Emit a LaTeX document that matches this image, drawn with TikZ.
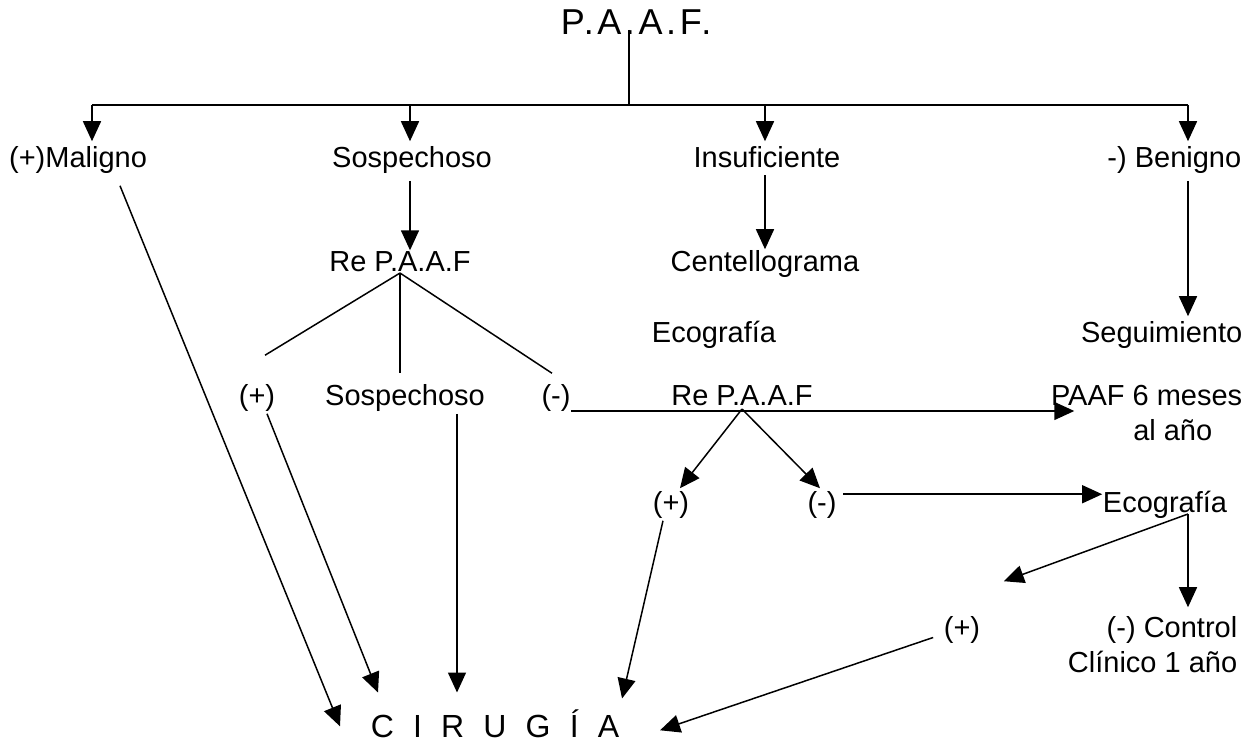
\documentclass[tikz,border=0pt]{standalone}
\usepackage{fontspec}
\setmainfont{Liberation Sans}
\newfontfamily\titlefont[LetterSpace=10]{Liberation Sans}
\newfontfamily\widefont[LetterSpace=60]{Liberation Sans}
\usetikzlibrary{arrows.meta, calc}

\begin{document}
\begin{tikzpicture}[
    x=1pt, y=-1pt,
    line width=1.5pt,
    lbl/.style={inner sep=0pt, anchor=base, font=\fontsize{29}{33}\selectfont},
    titulo/.style={inner sep=0pt, anchor=base west, font=\titlefont\fontsize{36}{39}\selectfont},
    tip/.style={-{Triangle[length=20pt,width=18pt]}}
]
    \useasboundingbox (0,0) rectangle (1250,743);

    % Title and first level
    \node[titulo] (paaf) at (560,35) {P.A.A.F.};
    \node[lbl] (malig) at (78,168) {(+)Maligno};
    \node[lbl] (sosp) at (412,168) {Sospechoso};
    \node[lbl] (insuf) at (767,168) {Insuficiente};
    \node[lbl, anchor=base east] (benig) at (1242,168) {-) Benigno};

    % Second level
    \node[lbl] (repaaf) at (400,272) {Re P.A.A.F};
    \node[lbl] (cente) at (765,272) {Centellograma};
    \node[lbl] (ecoa) at (714,342) {Ecografía};
    \node[lbl, anchor=base east] (segui) at (1243,342) {Seguimiento};

    % Third level
    \node[lbl] (posa) at (257,405) {(+)};
    \node[lbl] (sospb) at (405,405) {Sospechoso};
    \node[lbl] (nega) at (556,405) {(-)};
    \node[lbl] (repaafb) at (742,405) {Re P.A.A.F};
    \node[lbl, anchor=base east] (seis) at (1243,405) {PAAF 6 meses};
    \node[lbl, anchor=base east] (anio) at (1213,440) {al año};

    % Fourth level
    \node[lbl] (posb) at (671,512) {(+)};
    \node[lbl] (negb) at (822,512) {(-)};
    \node[lbl] (ecob) at (1165,512) {Ecografía};
    \node[lbl] (posc) at (962,637) {(+)};
    \node[lbl, anchor=base east] (control) at (1238,637) {(-) Control};
    \node[lbl, anchor=base east] (clinico) at (1238,672) {Clínico 1 año};

    % Result
    \node[titulo, font=\widefont\fontsize{32}{36}\selectfont] (cirugia) at (370,737) {CIRUGÍA};

    % Trunk
    \coordinate (bar) at (629,105);
    \coordinate (stemtop) at ($(bar |- paaf.base)+(0,-5)$);
    \draw (stemtop) -- (bar);
    \draw (92,0 |- bar) -- (1188,0 |- bar);
    \foreach \n/\x in {malig/92, sosp/410, insuf/765, benig/1188}
        \draw[tip, shorten >=5pt] (\x,0 |- bar) -- (\x,0 |- \n.north);

    % First level down
    \draw[tip, shorten <=6pt, shorten >=1pt] ([xshift=-2pt]sosp.south) -- ([xshift=-2pt]sosp.south |- repaaf.north);
    \draw[tip, shorten <=6pt, shorten >=1pt] ([xshift=-2pt]insuf.south) -- ([xshift=-2pt]insuf.south |- cente.north);
    \coordinate (benigpt) at (1188,0 |- benig.south);
    \draw[tip, shorten <=6pt, shorten >=4pt] (benigpt) -- (benigpt |- segui.north);

    % Re P.A.A.F branches
    \draw (repaaf.south) -- ($(posa.north)+(8,-28)$);
    \draw[shorten >=10pt] (repaaf.south) -- (repaaf.south |- sospb.north);
    \draw (repaaf.south) -- ($(nega.north)+(-4,-10)$);

    % (-) to PAAF 6 meses
    \coordinate (negat) at ([yshift=-6pt]nega.base east);
    \draw[tip] (negat) -- ($(negat -| seis.west)+(24,0)$);

    % second Re P.A.A.F
    \draw[tip] ([yshift=-3pt]repaafb.south) -- ($(posb.north)+(9,-2)$);
    \draw[tip] ([yshift=-3pt]repaafb.south) -- ($(negb.north)+(-2,-2)$);
    \coordinate (negbt) at ($(negb.north east)+(6,4)$);
    \draw[tip] (negbt) -- (negbt -| ecob.west);

    % Ecografía branches
    \coordinate (ecobpt) at ([xshift=23pt,yshift=-2pt]ecob.base);
    \draw[tip] (ecobpt) -- ($(posc.north east)+(23,-34)$);
    \draw[tip, shorten >=8pt] (ecobpt) -- (ecobpt |- control.north);

    % Into CIRUGIA
    \draw[tip] ($(malig.south)+(42,11)$) -- ($(cirugia.west)+(-30,3)$);
    \draw[tip] ($(posa.south)+(10,2)$) -- ($(cirugia.north west)+(8,-16)$);
    \coordinate (sospbt) at ($(sospb.south)+(52,2)$);
    \draw[tip, shorten >=16pt] (sospbt) -- (sospbt |- cirugia.north);
    \draw[tip] ($(posb.south)+(-8,2)$) -- ($(cirugia.north east)+(2,-10)$);
    \draw[tip] ($(posc.west)+(-10,8)$) -- ($(cirugia.east)+(40,7)$);
\end{tikzpicture}
\end{document}
